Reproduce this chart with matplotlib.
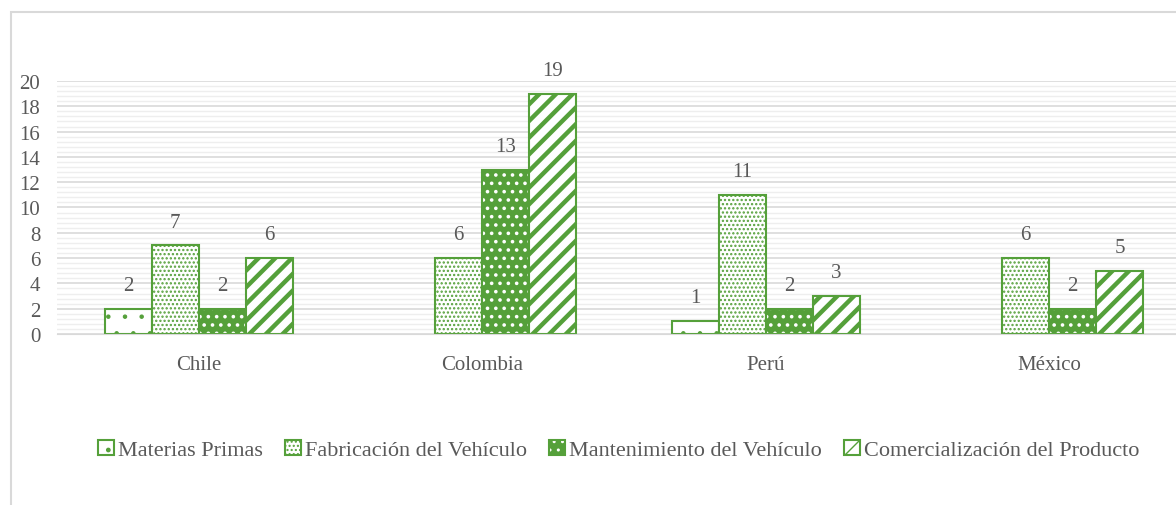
import matplotlib
matplotlib.use('Agg')
import matplotlib.pyplot as plt
from matplotlib.patches import Patch, Rectangle
from matplotlib.legend_handler import HandlerTuple
import numpy as np

categories = ['Chile', 'Colombia', 'Perú', 'México']
series_names = ['Materias Primas', 'Fabricación del Vehículo',
                'Mantenimiento del Vehículo', 'Comercialización del Producto']
materias = [2, 0, 1, 0]
fabricacion = [7, 6, 11, 6]
mantenimiento = [2, 13, 2, 2]
comercializacion = [6, 19, 3, 5]
yticks = list(range(0, 21, 2))

green = '#55a03a'
text_col = '#595959'

plt.rcParams['font.family'] = ['Liberation Serif', 'DejaVu Serif']

fig = plt.figure(figsize=(11.76, 5.06), dpi=100)
W, H = 1176, 506
# chart area border (light gray, cut at right/bottom like the source)
fig.add_artist(Rectangle((11 / W, -0.1), 1.2, (H - 13) / H + 0.1,
                         transform=fig.transFigure, fill=False,
                         edgecolor='#d9d9d9', lw=1.5))

ax = fig.add_axes([57 / W, (H - 335) / H, 1134 / W, 253 / H])
ax.set_xlim(-0.5, 3.5)
ax.set_ylim(0, 20)

# gridlines
ax.set_yticks(yticks)
ax.set_yticks(np.arange(0, 20.01, 0.4), minor=True)
ax.grid(True, which='minor', axis='y', color='#eeeeee', lw=1.0)
ax.grid(True, which='major', axis='y', color='#d9d9d9', lw=1.2)
ax.set_axisbelow(True)
for s in ['top', 'right', 'left']:
    ax.spines[s].set_visible(False)
ax.spines['bottom'].set_color('#d9d9d9')
ax.tick_params(axis='both', which='both', length=0, labelsize=15, colors=text_col)
ax.tick_params(axis='y', pad=12)
ax.tick_params(axis='x', pad=15)
ax.set_xticks(range(len(categories)))
ax.set_xticklabels(categories)

x = np.arange(len(categories))
bw = 0.166
offsets = [-1.5 * bw, -0.5 * bw, 0.5 * bw, 1.5 * bw]
data = [materias, fabricacion, mantenimiento, comercializacion]
styles = [
    dict(face='white', hatch_col=green, hatch='.', hlw=0.8),
    dict(face='white', hatch_col=green, hatch='....', hlw=1.1),
    dict(face=green, hatch_col='white', hatch='..', hlw=1.4),
    dict(face='white', hatch_col=green, hatch='//', hlw=3.2),
]

handles = []
for vals, off, st in zip(data, offsets, styles):
    vals = np.array(vals)
    keep = vals > 0
    xs = (x + off)[keep]
    hs = vals[keep]
    with plt.rc_context({'hatch.linewidth': st['hlw']}):
        bars = ax.bar(xs, hs, bw, color=st['face'],
                      edgecolor=st['hatch_col'], hatch=st['hatch'], lw=0)
        for b in bars:
            if hasattr(b, 'set_hatch_linewidth'):
                b.set_hatch_linewidth(st['hlw'])
        ax.bar(xs, hs, bw, fill=False, edgecolor=green, lw=1.5)
        h1 = Patch(facecolor=st['face'], edgecolor=st['hatch_col'],
                   hatch=st['hatch'], lw=0)
        if hasattr(h1, 'set_hatch_linewidth'):
            h1.set_hatch_linewidth(st['hlw'])
    h2 = Patch(fill=False, edgecolor=green, lw=1.5)
    handles.append((h1, h2))
    for xi, v in zip(xs, hs):
        ax.annotate(str(v), (xi, v), xytext=(0, 10), textcoords='offset points',
                    ha='center', va='bottom', fontsize=15, color=text_col)

fig.legend(handles, series_names, handler_map={tuple: HandlerTuple(ndivide=1)},
           loc='center', bbox_to_anchor=(619 / W, (H - 451) / H), ncol=4,
           frameon=False, fontsize=16, labelcolor=text_col,
           handlelength=0.7, handleheight=0.7, handletextpad=0.2,
           columnspacing=1.0)

fig.savefig('out.png', dpi=100)
